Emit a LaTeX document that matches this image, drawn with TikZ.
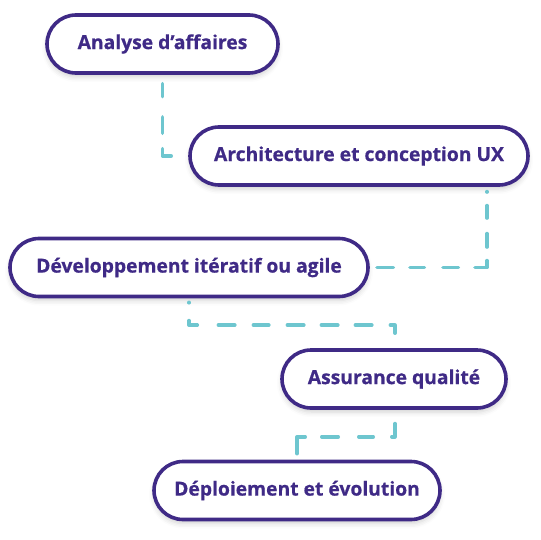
\documentclass[tikz,border=0pt]{standalone}
\usepackage{fontspec}
\setmainfont{Open Sans}[BoldFeatures={FakeBold=0.6}]
\usetikzlibrary{calc,shadows.blur}
\definecolor{pp}{HTML}{3F2A86}
\definecolor{tl}{HTML}{6EC6CF}
\begin{document}
\begin{tikzpicture}[x=1pt,y=-1pt,
  stage/.style={draw=pp, line width=3.6pt, fill=white, rounded corners=29pt,
    minimum height=58pt, inner sep=0pt, text=pp,
    font=\bfseries\fontsize{19.3}{23}\selectfont,
    blur shadow={shadow xshift=0pt, shadow yshift=-4pt, shadow opacity=18, shadow blur radius=5pt}},
  link/.style={draw=tl, line width=3.5pt, line cap=round, line join=round}]
\useasboundingbox (0,0) rectangle (540,540);
\node[stage, minimum width=231pt] (n1) at (162.5,44) {Analyse d’affaires};
\node[stage, minimum width=338pt] (n2) at (359,156) {Architecture et conception UX};
\node[stage, minimum width=358pt] (n3) at (189,267.5) {Développement itératif ou agile};
\node[stage, minimum width=224pt] (n4) at (394,379) {Assurance qualité};
\node[stage, minimum width=286pt] (n5) at (297,490.5) {Déploiement et évolution};
\draw[link, dash pattern=on 13.2pt off 20.1pt on 16.5pt off 15.2pt on 16.2pt off 14.8pt on 0.5pt off 20pt]
  ($(n1.south)+(0,8.75)$) |- ($(n2.west)+(-3,0)$);
\draw[link, dash pattern=on 0.5pt off 13.5pt on 12.5pt off 15.5pt on 13.5pt off 13.5pt on 19pt off 16.5pt on 15.5pt off 18.5pt on 14.5pt off 16.5pt on 16.5pt off 20pt]
  ($(n2.south)+(128,4.75)$) |- ($(n3.east)+(5,0)$);
\draw[link, dash pattern=on 0.5pt off 17.75pt on 13pt off 21pt on 16.5pt off 18.5pt on 15.5pt off 18.5pt on 16.5pt off 17.5pt on 16.5pt off 17.5pt on 16.5pt off 18.5pt on 20pt off 10pt]
  ($(n3.south)+(0,4)$) |- ($(n4.north)+(1,-23)$) -- ($(n4.north)+(1,-15)$);
\draw[link, dash pattern=on 16.5pt off 18.5pt on 14.5pt off 20.5pt on 16.5pt off 16.5pt on 40pt off 10pt]
  ($(n4.south)+(1,13.75)$) -- ($(n4.south)+(1,27)$) -| ($(n5.north)+(0,-6)$);
\end{tikzpicture}
\end{document}
